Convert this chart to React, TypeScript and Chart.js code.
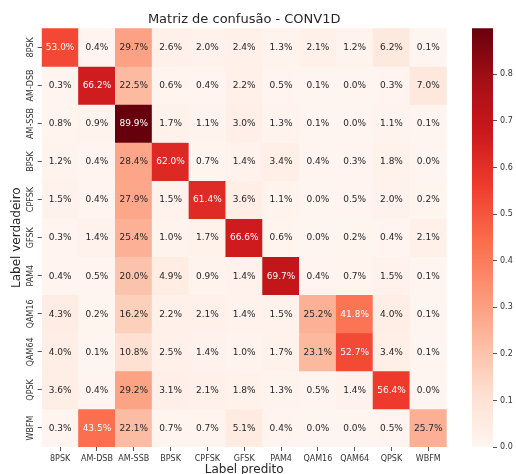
import React, { useEffect, useRef } from 'react';
import { Chart, registerables } from 'chart.js';

Chart.register(...registerables);

// ---------- data ----------
const titleText = 'Matriz de confusão - CONV1D';
const xTitle = 'Label predito';
const yTitle = 'Label verdadeiro';
const classes = ['8PSK', 'AM-DSB', 'AM-SSB', 'BPSK', 'CPFSK', 'GFSK', 'PAM4', 'QAM16', 'QAM64', 'QPSK', 'WBFM'];

const row8PSK = [53.0, 0.4, 29.7, 2.6, 2.0, 2.4, 1.3, 2.1, 1.2, 6.2, 0.1];
const rowAMDSB = [0.3, 66.2, 22.5, 0.6, 0.4, 2.2, 0.5, 0.1, 0.0, 0.3, 7.0];
const rowAMSSB = [0.8, 0.9, 89.9, 1.7, 1.1, 3.0, 1.3, 0.1, 0.0, 1.1, 0.1];
const rowBPSK = [1.2, 0.4, 28.4, 62.0, 0.7, 1.4, 3.4, 0.4, 0.3, 1.8, 0.0];
const rowCPFSK = [1.5, 0.4, 27.9, 1.5, 61.4, 3.6, 1.1, 0.0, 0.5, 2.0, 0.2];
const rowGFSK = [0.3, 1.4, 25.4, 1.0, 1.7, 66.6, 0.6, 0.0, 0.2, 0.4, 2.1];
const rowPAM4 = [0.4, 0.5, 20.0, 4.9, 0.9, 1.4, 69.7, 0.4, 0.7, 1.5, 0.1];
const rowQAM16 = [4.3, 0.2, 16.2, 2.2, 2.1, 1.4, 1.5, 25.2, 41.8, 4.0, 0.1];
const rowQAM64 = [4.0, 0.1, 10.8, 2.5, 1.4, 1.0, 1.7, 23.1, 52.7, 3.4, 0.1];
const rowQPSK = [3.6, 0.4, 29.2, 3.1, 2.1, 1.8, 1.3, 0.5, 1.4, 56.4, 0.0];
const rowWBFM = [0.3, 43.5, 22.1, 0.7, 0.7, 5.1, 0.4, 0.0, 0.0, 0.5, 25.7];

const matrixRows = [row8PSK, rowAMDSB, rowAMSSB, rowBPSK, rowCPFSK, rowGFSK, rowPAM4, rowQAM16, rowQAM64, rowQPSK, rowWBFM];

const colorMin = 0;
const colorMax = 0.899;
const colorbarTicks = [0.0, 0.1, 0.2, 0.3, 0.4, 0.5, 0.6, 0.7, 0.8];

// ---------- styling ----------
const FONT = "'DejaVu Sans', 'Liberation Sans', sans-serif";
const TEXT_DARK = '#262626';
const TICK_COLOR = '#555555';

// matplotlib "Reds" colormap control points
const REDS: number[][] = [
  [1.0, 0.9608, 0.9412],
  [0.9961, 0.8784, 0.8235],
  [0.9882, 0.7333, 0.6314],
  [0.9882, 0.5725, 0.4471],
  [0.9843, 0.4157, 0.2902],
  [0.9373, 0.2314, 0.1725],
  [0.7961, 0.0941, 0.1137],
  [0.6471, 0.0588, 0.0824],
  [0.4039, 0.0, 0.051],
];

function redsRGB(t: number): number[] {
  const tt = Math.max(0, Math.min(1, t));
  const n = REDS.length - 1;
  const p = tt * n;
  const i = Math.min(Math.floor(p), n - 1);
  const f = p - i;
  const a = REDS[i];
  const b = REDS[i + 1];
  return [0, 1, 2].map((k) => a[k] + (b[k] - a[k]) * f);
}

function toCss(c: number[]): string {
  return `rgb(${Math.round(c[0] * 255)}, ${Math.round(c[1] * 255)}, ${Math.round(c[2] * 255)})`;
}

function normalize(pct: number): number {
  return (pct / 100 - colorMin) / (colorMax - colorMin);
}

function luminance(c: number[]): number {
  const lin = c.map((v) => (v <= 0.03928 ? v / 12.92 : Math.pow((v + 0.055) / 1.055, 2.4)));
  return 0.2126 * lin[0] + 0.7152 * lin[1] + 0.0722 * lin[2];
}

const annotationPlugin = {
  id: 'cellAnnotations',
  afterDatasetsDraw(chart: any) {
    const ctx = chart.ctx;
    ctx.save();
    ctx.font = `9px ${FONT}`;
    ctx.textAlign = 'center';
    ctx.textBaseline = 'middle';
    chart.data.datasets.forEach((ds: any, di: number) => {
      const meta = chart.getDatasetMeta(di);
      meta.data.forEach((el: any, j: number) => {
        const raw = ds.data[j];
        const { x, y, base } = el.getProps(['x', 'y', 'base'], true);
        const col = redsRGB(normalize(raw.v));
        ctx.fillStyle = luminance(col) > 0.408 ? TEXT_DARK : '#ffffff';
        ctx.fillText(`${raw.v.toFixed(1)}%`, x, (y + base) / 2 + 0.5);
      });
    });
    ctx.restore();
  },
};

const yLabelPlugin = {
  id: 'rotatedYLabels',
  afterDraw(chart: any) {
    const ctx = chart.ctx;
    const ys = chart.scales.y;
    ctx.save();
    ctx.font = `8px ${FONT}`;
    ctx.fillStyle = '#333333';
    ctx.textAlign = 'center';
    ctx.textBaseline = 'middle';
    classes.forEach((label, i) => {
      const py = ys.getPixelForValue(i + 0.5);
      ctx.save();
      ctx.translate(30.5, py);
      ctx.rotate(-Math.PI / 2);
      ctx.fillText(label, 0, 0);
      ctx.restore();
    });
    ctx.restore();
  },
};

export default function App() {
  const mainRef = useRef<HTMLCanvasElement>(null);
  const barRef = useRef<HTMLCanvasElement>(null);

  useEffect(() => {
    if (!mainRef.current || !barRef.current) return;
    Chart.defaults.font.family = FONT;

    const datasets = matrixRows.map((row, i) => ({
      label: classes[i],
      data: row.map((v, j) => ({ x: classes[j], y: 1, v })),
      backgroundColor: (c: any) => toCss(redsRGB(normalize(c.raw ? c.raw.v : 0))),
      borderWidth: 0,
      barPercentage: 1,
      categoryPercentage: 1,
    }));

    const main = new Chart(mainRef.current, {
      type: 'bar',
      data: { labels: classes, datasets: datasets as any },
      options: {
        responsive: false,
        animation: false,
        layout: { padding: { left: 0, right: 69.3, top: 0, bottom: 0 } },
        plugins: {
          legend: { display: false },
          tooltip: { enabled: false },
          title: {
            display: true,
            fullSize: false,
            text: titleText,
            color: TEXT_DARK,
            font: { family: FONT, size: 13, weight: 'normal' },
            padding: { top: 11.5, bottom: 1.2 },
          },
        },
        scales: {
          x: {
            type: 'category',
            stacked: true,
            offset: true,
            grid: {
              display: true,
              offset: false,
              drawOnChartArea: false,
              drawTicks: true,
              tickLength: 4,
              color: TICK_COLOR,
              lineWidth: 1,
            },
            border: { display: false },
            ticks: {
              font: { family: FONT, size: 8 },
              color: '#333333',
              padding: 3,
              minRotation: 0,
              maxRotation: 0,
              autoSkip: false,
            },
            title: {
              display: true,
              text: xTitle,
              color: TEXT_DARK,
              font: { family: FONT, size: 12 },
              padding: { top: 0, bottom: -3 },
            },
            afterFit: (s: any) => {
              s.height = 27;
            },
          },
          y: {
            type: 'linear',
            stacked: true,
            reverse: true,
            min: 0,
            max: classes.length,
            afterBuildTicks: (s: any) => {
              s.ticks = classes.map((_, i) => ({ value: i + 0.5 }));
            },
            grid: {
              display: true,
              drawOnChartArea: false,
              drawTicks: true,
              tickLength: 4,
              color: TICK_COLOR,
              lineWidth: 1,
            },
            border: { display: false },
            ticks: { display: false },
            title: {
              display: true,
              text: yTitle,
              color: TEXT_DARK,
              font: { family: FONT, size: 12 },
              padding: { top: 10, bottom: 0 },
            },
            afterFit: (s: any) => {
              s.width = 41.7;
            },
          },
        },
      } as any,
      plugins: [annotationPlugin, yLabelPlugin],
    });

    const colorbar = new Chart(barRef.current, {
      type: 'bar',
      data: {
        labels: [''],
        datasets: [
          {
            data: [[colorMin, colorMax]] as any,
            backgroundColor: (c: any) => {
              const chart = c.chart;
              const ys = chart.scales.y;
              if (!ys || !chart.chartArea) return toCss(redsRGB(0.5));
              const y0 = ys.getPixelForValue(colorMin);
              const y1 = ys.getPixelForValue(colorMax);
              const g = chart.ctx.createLinearGradient(0, y0, 0, y1);
              REDS.forEach((s, i) => g.addColorStop(i / (REDS.length - 1), toCss(s)));
              return g;
            },
            borderWidth: 0,
            barPercentage: 1,
            categoryPercentage: 1,
          },
        ],
      },
      options: {
        responsive: false,
        animation: false,
        layout: { padding: { left: 472, right: 0, top: 28.3, bottom: 27 } },
        plugins: { legend: { display: false }, tooltip: { enabled: false } },
        scales: {
          x: { display: false, offset: true },
          y: {
            position: 'right',
            min: colorMin,
            max: colorMax,
            afterBuildTicks: (s: any) => {
              s.ticks = colorbarTicks.map((v) => ({ value: v }));
            },
            ticks: {
              callback: (v: any) => Number(v).toFixed(1),
              font: { family: FONT, size: 8 },
              color: '#333333',
              padding: 3,
            },
            grid: {
              drawOnChartArea: false,
              drawTicks: true,
              tickLength: 4,
              color: TICK_COLOR,
            },
            border: { display: false },
            afterFit: (s: any) => {
              s.width = 23;
            },
          },
        },
      } as any,
    });

    return () => {
      main.destroy();
      colorbar.destroy();
    };
  }, []);

  return (
    <div style={{ position: 'fixed', left: 0, top: 0, width: 516, height: 474, background: '#ffffff' }}>
      <canvas ref={mainRef} width={516} height={474} style={{ position: 'absolute', left: 0, top: 0 }} />
      <canvas ref={barRef} width={516} height={474} style={{ position: 'absolute', left: 0, top: 0 }} />
    </div>
  );
}
